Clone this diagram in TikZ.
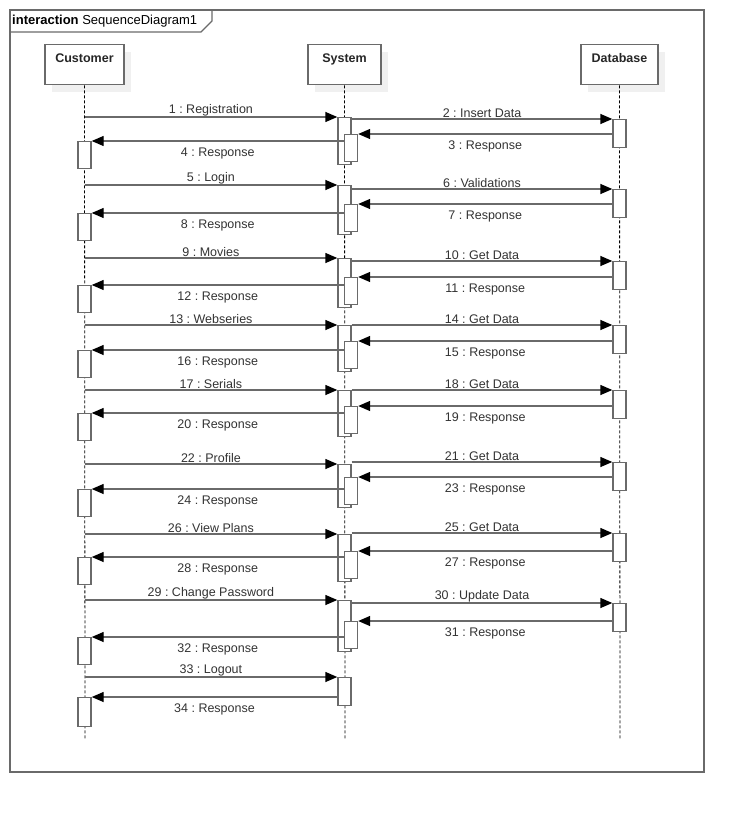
\documentclass[tikz,border=0pt]{standalone}
\usepackage{fontspec}
\setmainfont{Liberation Sans}
\usetikzlibrary{arrows.meta,shadows}
\definecolor{linegray}{HTML}{6A6A6A}
\definecolor{textgray}{HTML}{333333}
\frenchspacing
\begin{document}
\begin{tikzpicture}[x=1pt,y=-1pt,
    every node/.style={font=\fontsize{12.5}{14}\selectfont,text=textgray},
    head/.style={draw=linegray,line width=1.4pt,fill=white,minimum width=80,minimum height=40,anchor=north,
      drop shadow={shadow xshift=7pt,shadow yshift=-7pt,fill=black!6,opacity=1},
      label={[anchor=north,yshift=-6pt,font=\fontsize{12.5}{14}\selectfont\bfseries,text=black!85]north:#1}},
    lifeline/.style={black,line width=0.8pt,dash pattern=on 3pt off 2pt},
    act/.style={draw=linegray,line width=1.4pt,fill=white,minimum width=13,inner sep=0pt,anchor=north},
    msg/.style={draw=linegray,line width=1.4pt,-{Triangle[length=12pt,width=10pt,color=black]}},
    txt/.style={yshift=-3pt}]
  \useasboundingbox (0,0) rectangle (744,813);
  % frame
  \draw[linegray,line width=1.4pt] (10,10) rectangle (704,772);
  \draw[linegray,line width=1.2pt] (10,32) -- (201,32) -- (212,21) -- (212,10);
  \node[anchor=west,inner sep=0pt,text=black,font=\fontsize{13}{15}\selectfont] (frametitle) at (12,21) {\textbf{interaction} SequenceDiagram1};
  % lifelines
  \node[head=Customer,minimum width=79] (cust) at (84.5,44) {};
  \node[head=System,minimum width=73] (sys) at (344.5,44) {};
  \node[head=Database,minimum width=77] (dbase) at (619.5,44) {};
  \coordinate (custend) at (85,740);
  \coordinate (sysend) at (345,740);
  \coordinate (dbend) at (620,740);
  \draw[lifeline] (cust.south) -- (custend);
  \draw[lifeline] (sys.south) -- (sysend);
  \draw[lifeline] (dbase.south) -- (dbend);
  % request / query / answer / reply
  \foreach \r/\ya/\yb/\yc/\yd/\ma/\mb/\mc/\md in {
      1/117/119/134/141/{1 : Registration}/{2 : Insert Data}/{3 : Response}/{4 : Response},
      2/185/189/204/213/{5 : Login}/{6 : Validations}/{7 : Response}/{8 : Response},
      3/258/261/277/285/{9 : Movies}/{10 : Get Data}/{11 : Response}/{12 : Response},
      4/325/325/341/350/{13 : Webseries}/{14 : Get Data}/{15 : Response}/{16 : Response},
      5/390/390/406/413/{17 : Serials}/{18 : Get Data}/{19 : Response}/{20 : Response},
      6/464/462/477/489/{22 : Profile}/{21 : Get Data}/{23 : Response}/{24 : Response},
      7/534/533/551/557/{26 : View Plans}/{25 : Get Data}/{27 : Response}/{28 : Response},
      8/600/603/621/637/{29 : Change Password}/{30 : Update Data}/{31 : Response}/{32 : Response}}{
    \node[act,minimum height=\yc-\ya+30] (so\r) at (344.5,\ya) {};
    \node[act,minimum height=27] (si\r) at (351,\yc) {};
    \node[act,minimum height=28] (db\r) at (619.5,\yb) {};
    \node[act,minimum height=27] (cu\r) at (84.5,\yd) {};
    \draw[msg] (cust |- so\r.north) -- node[above,txt] {\ma} (so\r.north west);
    \draw[msg] (so\r.east |- db\r.north) -- node[above,txt] {\mb} (db\r.north west);
    \draw[msg] (db\r.west |- si\r.north) -- node[below,txt] {\mc} (si\r.north east);
    \draw[msg] (si\r.west |- cu\r.north) -- node[below,txt] {\md} (cu\r.north east);
  }
  % logout
  \node[act,minimum height=28] (so9) at (344.5,677) {};
  \node[act,minimum height=29] (cu9) at (84.5,697) {};
  \draw[msg] (cust |- so9.north) -- node[above,txt] {33 : Logout} (so9.north west);
  \draw[msg] (so9.west |- cu9.north) -- node[below,txt] {34 : Response} (cu9.north east);
\end{tikzpicture}
\end{document}
